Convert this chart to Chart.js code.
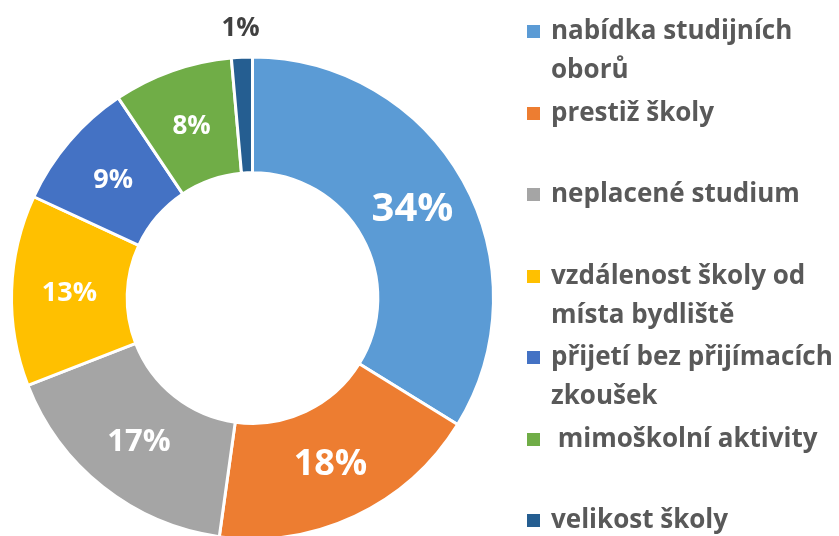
<!DOCTYPE html>
<html lang="cs">
<head>
<meta charset="utf-8">
<title>Důvody výběru školy</title>
<script src="https://cdn.jsdelivr.net/npm/chart.js@4.4.1/dist/chart.umd.min.js"></script>
<style>
    html, body { margin: 0; padding: 0; background: #fff; }
    #wrap { position: relative; width: 839px; height: 536px; overflow: hidden; }
    #legend { position: absolute; left: 527px; top: 0; width: 312px; height: 536px; }
    .item { position: absolute; left: 0; font-family: "Open Sans", sans-serif; font-weight: 700;
            font-size: 26px; line-height: 39px; color: #595959; white-space: pre; }
    .box { position: absolute; left: 0; top: 15px; width: 13px; height: 13px; }
    .txt { margin-left: 24px; }
</style>
</head>
<body>
<div id="wrap">
    <canvas id="donut"></canvas>
    <div id="legend"></div>
</div>
<script>
// kategorie (řádky legendy)
const categories = [
    ['nabídka studijních', 'oborů'],
    ['prestiž školy'],
    ['neplacené studium'],
    ['vzdálenost školy od', 'místa bydliště'],
    ['přijetí bez přijímacích', 'zkoušek'],
    [' mimoškolní aktivity'],
    ['velikost školy']
];
// podíly v % (odečteno z výsečí, popisky zaokrouhleny)
const shares = [33.8, 18.4, 16.9, 12.8, 8.7, 8.0, 1.4];
const colors = ['#5B9BD5', '#ED7D31', '#A5A5A5', '#FFC000', '#4472C4', '#70AD47', '#255E91'];
// velikost popisku podle výseče
const labelSizes = [40, 36, 31, 27, 27, 26, 26];

// popisky s procenty
const percentLabels = {
    id: 'percentLabels',
    afterDatasetsDraw(chart) {
        const ctx = chart.ctx;
        const meta = chart.getDatasetMeta(0);
        ctx.save();
        ctx.textAlign = 'center';
        ctx.textBaseline = 'middle';
        meta.data.forEach((arc, i) => {
            const p = arc.getProps(['x', 'y', 'startAngle', 'endAngle', 'innerRadius', 'outerRadius']);
            const mid = (p.startAngle + p.endAngle) / 2;
            let r = (p.innerRadius + p.outerRadius) / 2;
            let color = '#ffffff';
            // malá výseč - popisek nad prstencem
            if (shares[i] < 3) {
                r = p.outerRadius + 30;
                color = '#404040';
            }
            ctx.font = '700 ' + labelSizes[i] + 'px "Open Sans"';
            ctx.fillStyle = color;
            ctx.fillText(Math.round(shares[i]) + '%', p.x + Math.cos(mid) * r, p.y + Math.sin(mid) * r + 1);
        });
        ctx.restore();
    }
};

const chart = new Chart(document.getElementById('donut'), {
    type: 'doughnut',
    data: {
        labels: categories,
        datasets: [{
            data: shares,
            backgroundColor: colors,
            borderColor: '#ffffff',
            borderWidth: 3,
            hoverOffset: 0,
            clip: false
        }]
    },
    options: {
        responsive: true,
        maintainAspectRatio: false,
        animation: false,
        radius: 241,
        cutout: 123,
        layout: { padding: { left: 0, right: 334, top: 60, bottom: 0 } },
        plugins: {
            legend: { display: false },
            tooltip: { enabled: false }
        }
    },
    plugins: [percentLabels]
});

// vlastní legenda vpravo
const legend = document.getElementById('legend');
chart.data.labels.forEach((lines, i) => {
    const item = document.createElement('div');
    item.className = 'item';
    item.style.top = (10 + i * 81.5) + 'px';
    const box = document.createElement('span');
    box.className = 'box';
    box.style.background = colors[i];
    const txt = document.createElement('div');
    txt.className = 'txt';
    txt.textContent = lines.join('\n');
    item.appendChild(box);
    item.appendChild(txt);
    legend.appendChild(item);
});
</script>
</body>
</html>
